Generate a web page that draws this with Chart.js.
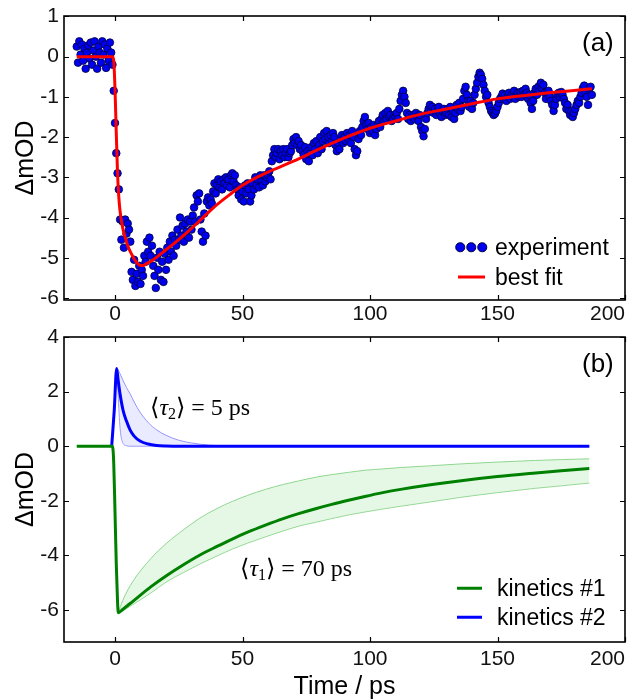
<!DOCTYPE html>
<html>
<head>
<meta charset="utf-8">
<title>Transient absorption kinetics</title>
<script src="https://cdn.jsdelivr.net/npm/chart.js@4.4.1/dist/chart.umd.min.js"></script>
<style>
  html, body { margin: 0; padding: 0; background: #fff; }
  .figure { position: relative; width: 631px; height: 700px; overflow: hidden;
            font-family: 'Liberation Sans', Arial, sans-serif; color: #000; }
  .figure canvas { position: absolute; left: 0; }
  #panelA { top: 0; }
  #panelB { top: 328px; }
  .note { position: absolute; white-space: nowrap; line-height: 1; transform: translateY(-50%); }
  .tag { font-size: 26px; }
  .key { font-size: 23px; }
  .tau { font-family: 'Liberation Serif', 'DejaVu Serif', serif; font-size: 24px; }
  .tau sub { font-size: 16px; vertical-align: -4px; line-height: 0; }
  .dot { position: absolute; width: 7.5px; height: 7.5px; border-radius: 50%;
         background: #0000f0; border: 0.8px solid #00003c; transform: translate(-50%, -50%); }
  .bar { position: absolute; transform: translateY(-50%); }
</style>
</head>
<body>
<div class="figure">
  <canvas id="panelA" width="631" height="328"></canvas>
  <canvas id="panelB" width="631" height="372"></canvas>

  <div class="note tag" style="left:582px; top:42px;">(a)</div>
  <div class="note tag" style="left:582px; top:363px;">(b)</div>

  <span class="dot" style="left:460px; top:247px;"></span>
  <span class="dot" style="left:471px; top:247px;"></span>
  <span class="dot" style="left:482px; top:247px;"></span>
  <div class="note key" style="left:495px; top:247px;">experiment</div>
  <span class="bar" style="left:458px; top:277px; width:27px; height:3px; background:#ff0000;"></span>
  <div class="note key" style="left:495px; top:277px;">best fit</div>

  <span class="bar" style="left:457px; top:588px; width:25px; height:2.5px; background:#008000;"></span>
  <div class="note key" style="left:497px; top:588px;">kinetics #1</div>
  <span class="bar" style="left:457px; top:617px; width:25px; height:2.5px; background:#0000ff;"></span>
  <div class="note key" style="left:497px; top:617px;">kinetics #2</div>

  <div class="note tau" style="left:150px; top:407px;">⟨<i>τ</i><sub>2</sub>⟩ = 5 ps</div>
  <div class="note tau" style="left:240px; top:568px;">⟨<i>τ</i><sub>1</sub>⟩ = 70 ps</div>
</div>

<script>
// Axis ranges and tick positions
const X_MIN = -20, X_MAX = 200;
const xTickValues = [-20, 0, 50, 100, 150, 200];
const xTickMarks = [0, 50, 100, 150, 200];
const topYTicks = [-6, -5, -4, -3, -2, -1, 0, 1];
const bottomYTicks = [-6, -4, -2, 0, 2, 4];

// (a) measured trace, sampled every 0.5 ps from -15 ps
const expStart = -15, expStep = 0.5;
const expDelta = [
  0.25, -0.15, 0.38, 0.05, 0.3, -0.1, 0.2, -0.3, 0.1, 0.28, -0.05, 0.35, -0.2, 0.15, 0.38,
  0.0, -0.3, 0.25, 0.1, -0.15, 0.38, 0.05, 0.3, -0.28, 0.2, -0.1, 0.35, 0.1, -0.2,
  -0.85, -1.65, -2.4, -2.9, -3.3, -4.05, -4.55, -4.1, -4.75,
  -4.05, -4.4, -4.15, -4.3, -4.6, -5.35, -5.55, -5.05, -5.7, -5.4, -5.6, -5.2, -5.65, -5.3,
  -5.45, -4.95, -5.1, -4.6, -4.85, -4.5, -4.95, -4.7, -5.2,
  -5.45, -5.75, -5.0, -5.3, -4.85, -5.55, -5.1, -5.6, -4.9, -5.3, -4.75, -5.05, -4.6, -4.85, -4.45,
  -4.95, -4.55, -4.7, -4.3, -4.55, -4.0, -4.45, -4.2, -4.6, -4.15, -4.35, -4.05, -4.5, -4.1, -4.3,
  -3.95, -3.75, -4.1, -3.45, -3.6, -3.4, -4.05, -4.35, -4.6, -3.9, -4.45, -3.6, -3.5, -3.7, -3.55,
  -3.65, -3.35, -3.15, -3.4, -3.2,
  -3.05, -3.25, -3.1, -3.3, -3.05, -3.15, -3.0, -3.2, -3.05, -3.25, -2.95, -2.9, -3.1, -2.95, -3.2,
  -3.3, -3.45, -3.25, -3.55, -3.35,
  -3.6, -3.2, -3.4, -3.15, -3.3, -3.6, -3.45, -3.15, -3.3, -3.0, -3.2, -3.05, -3.25, -2.95, -3.1,
  -3.2, -2.95, -3.1, -3.0, -2.95,
  -2.85, -3.05, -2.6, -2.45, -2.3, -2.5, -2.4, -2.3, -2.55, -2.35, -2.45, -2.3, -2.5, -2.4, -2.3,
  -2.5, -2.4, -2.35, -2.2, -2.05, -2.15, -2.0, -2.2, -2.1, -2.3, -2.2, -2.35, -2.45, -2.25, -2.55,
  -2.35, -2.6, -2.4, -2.25, -2.45, -2.15, -2.3, -2.1, -2.4, -2.2, -2.0, -2.3, -2.1, -1.9, -2.05,
  -1.85, -2.0, -2.15, -1.95, -2.1, -1.9, -2.0, -2.2, -2.35, -2.15, -2.3, -2.05, -1.95, -2.15, -2.0,
  -2.1, -1.9, -2.05, -1.95, -2.15, -1.85, -2.0, -2.3, -2.45, -2.35, -2.05, -1.85, -1.95, -1.75, -1.6,
  -1.5, -1.7, -1.8, -1.65, -1.9, -1.75, -1.85, -1.7, -1.95, -1.8, -1.7, -1.6, -1.75, -1.55, -1.45,
  -1.6, -1.4, -1.55, -1.35, -1.5, -1.45, -1.6, -1.55, -1.45, -1.5,
  -1.4, -1.55, -1.3, -1.1, -0.95, -0.85, -1.0, -1.15, -1.4, -1.55, -1.45, -1.6, -1.5, -1.45, -1.55,
  -1.4, -1.5, -1.6, -1.45, -1.75, -1.85, -1.98, -1.8, -1.55, -1.4, -1.3, -1.2, -1.35, -1.25, -1.4,
  -1.3, -1.45, -1.35, -1.25, -1.4, -1.5, -1.35, -1.3, -1.45, -1.4,
  -1.3, -1.45, -1.25, -1.5, -1.35, -1.55, -1.4, -1.2, -1.3, -1.15, -1.35, -1.25, -1.05, -0.85, -0.75,
  -0.95, -1.1, -1.25, -1.1, -1.3, -1.15, -0.95, -0.8, -0.65, -0.5, -0.4, -0.45, -0.55, -0.7, -0.85,
  -1.0, -0.95, -1.15, -1.25, -1.35, -1.4, -1.45, -1.42, -1.35, -1.25,
  -1.15, -1.05, -1.0, -0.92, -1.05, -0.95, -1.1, -1.0, -0.9, -1.05, -0.95, -1.0, -0.85, -1.05, -0.95,
  -0.9, -1.0, -0.88, -1.0, -0.85, -0.95, -0.8, -0.9, -1.05, -0.95, -1.15, -1.3, -1.1, -0.9, -0.8,
  -0.95, -0.75, -0.85, -0.65, -0.8, -0.7, -0.9, -1.05, -0.9, -0.85,
  -1.0, -1.1, -1.2, -1.35, -1.2, -1.05, -0.95, -0.9, -1.0, -0.88, -0.95, -1.05, -1.15, -1.3, -1.2,
  -1.35, -1.45, -1.35, -1.5, -1.4, -1.3, -1.2, -1.1, -1.15, -1.0, -0.9, -0.78, -0.72, -0.9, -1.0,
  -1.2, -0.8, -0.75, -0.95
];

// (a) fitted curve
const fitTime = [-15, -1, -0.5, 0, 0.5, 1, 1.5, 2, 3, 4, 5, 6, 7, 8, 9, 10, 11, 12, 15, 20,
  25, 30, 35, 40, 45, 50, 55, 60, 70, 80, 90, 100, 110, 120, 130, 140, 150, 160, 170, 180, 187];
const fitDelta = [0, 0, -0.1, -0.8, -1.9, -2.9, -3.5, -3.85, -4.25, -4.5, -4.7, -4.85, -4.97, -5.08,
  -5.15, -5.19, -5.19, -5.16, -5.05, -4.8, -4.55, -4.27, -3.97, -3.68, -3.43, -3.2, -3.02, -2.87,
  -2.6, -2.3, -2.02, -1.78, -1.6, -1.43, -1.3, -1.17, -1.05, -0.97, -0.9, -0.84, -0.8];

// (b) kinetics #1 (slow component) with its spread
const slowTime = [-15, -1, -0.5, 0, 0.5, 1, 1.3, 3, 7, 14, 20, 27, 33, 40, 46, 52, 59, 66, 72, 79,
  85, 92, 98, 105, 112, 123, 135, 150, 165, 175, 186];
const slowMain = [0, 0, -0.6, -2.4, -4.3, -5.7, -6.1, -5.98, -5.68, -5.15, -4.75, -4.33, -4.0, -3.67,
  -3.4, -3.15, -2.89, -2.65, -2.47, -2.28, -2.13, -1.97, -1.84, -1.7, -1.58, -1.42, -1.27, -1.11,
  -0.98, -0.9, -0.82];
const slowBandTime = [1.3, 3, 7, 14, 20, 27, 33, 40, 46, 52, 59, 66, 72, 79, 85, 92, 98, 105, 112,
  123, 135, 150, 165, 175, 186];
const slowUpper = [-6.1, -5.65, -4.95, -4.12, -3.57, -3.05, -2.65, -2.28, -2.02, -1.8, -1.58, -1.4,
  -1.27, -1.13, -1.04, -0.95, -0.88, -0.83, -0.78, -0.72, -0.65, -0.58, -0.52, -0.49, -0.46];
const slowLower = [-6.1, -6.03, -5.8, -5.38, -4.98, -4.62, -4.33, -4.02, -3.77, -3.55, -3.32, -3.1,
  -2.93, -2.78, -2.65, -2.51, -2.41, -2.3, -2.2, -2.05, -1.88, -1.7, -1.54, -1.45, -1.35];

// (b) kinetics #2 (fast component) with its spread
const fastTime = [-1.3, -0.3, 0.65, 1.2, 2, 3.2, 4.5, 5.9, 7.5, 9.8, 13, 16.3, 20, 25, 30, 37, 45, 186];
const fastMain = [0, 1.3, 2.85, 2.45, 1.9, 1.3, 0.92, 0.6, 0.37, 0.19, 0.08, 0.03, 0.01, 0, 0, 0, 0, 0];
const fastBandTime = [0.65, 1.2, 2, 3.2, 4.5, 5.9, 7.5, 9.8, 13, 16.3, 20, 25, 30, 37, 45, 186];
const fastUpper = [2.85, 2.8, 2.65, 2.4, 2.15, 1.93, 1.62, 1.25, 0.87, 0.6, 0.4, 0.22, 0.12, 0.04, 0.01, 0];
const fastLower = [2.85, 1.9, 0.65, 0.1, 0.02, 0, 0, 0, 0, 0, 0, 0, 0, 0, 0, 0];

const FONT = "'Liberation Sans', Arial, sans-serif";
const TICK_LEN = 5;

const pairs = (xs, ys) => xs.map((x, i) => ({ x, y: ys[i] }));

// box frame plus inward ticks on all four sides
const frameTicks = {
  id: 'frameTicks',
  afterDraw(chart, args, opts) {
    const { ctx, chartArea: a, scales: { x, y } } = chart;
    ctx.save();
    ctx.strokeStyle = '#000';
    ctx.lineWidth = 1.2;
    ctx.beginPath();
    for (const v of opts.xMarks) {
      const px = Math.round(x.getPixelForValue(v)) + 0.5;
      ctx.moveTo(px, a.bottom); ctx.lineTo(px, a.bottom - TICK_LEN);
      ctx.moveTo(px, a.top); ctx.lineTo(px, a.top + TICK_LEN);
    }
    for (const v of opts.yMarks) {
      const py = Math.round(y.getPixelForValue(v)) + 0.5;
      ctx.moveTo(a.left, py); ctx.lineTo(a.left + TICK_LEN, py);
      ctx.moveTo(a.right, py); ctx.lineTo(a.right - TICK_LEN, py);
    }
    ctx.stroke();
    ctx.lineWidth = 1.6;
    ctx.strokeRect(a.left, a.top, a.right - a.left, a.bottom - a.top);
    ctx.restore();
  }
};

function xAxis(height, labelPad, title) {
  return {
    type: 'linear', min: X_MIN, max: X_MAX,
    grid: { display: false, drawTicks: false }, border: { display: false },
    afterBuildTicks: (s) => { s.ticks = xTickValues.map((value) => ({ value })); },
    afterFit: (s) => { s.height = height; s.paddingLeft = 0; s.paddingRight = 0; },
    ticks: {
      align: 'inner', autoSkip: false, maxRotation: 0, padding: labelPad,
      color: '#111', font: { family: FONT, size: 21 },
      callback: (v) => (xTickMarks.includes(v) ? String(v) : ''),
    },
    title: title
      ? { display: true, text: title, color: '#000', padding: 0, font: { family: FONT, size: 25, lineHeight: 1 } }
      : { display: false },
  };
}

function yAxis(min, max, ticks) {
  return {
    type: 'linear', min, max,
    grid: { display: false, drawTicks: false }, border: { display: false },
    afterBuildTicks: (s) => { s.ticks = ticks.map((value) => ({ value })); },
    afterFit: (s) => { s.width = 50; s.paddingTop = 0; s.paddingBottom = 0; },
    ticks: { padding: 5, color: '#111', font: { family: FONT, size: 21 }, callback: (v) => String(v) },
    title: { display: true, text: 'ΔmOD', color: '#000', padding: 0, font: { family: FONT, size: 25, lineHeight: 1 } },
  };
}

function baseOptions(padTop, xScale, yScale, yMarks) {
  return {
    responsive: false,
    animation: false,
    devicePixelRatio: 1,
    events: [],
    layout: { padding: { top: padTop, right: 6, left: 14, bottom: 0 } },
    plugins: {
      legend: { display: false },
      tooltip: { enabled: false },
      frameTicks: { xMarks: xTickMarks, yMarks },
    },
    scales: { x: xScale, y: yScale },
  };
}

const lineStyle = (color, width, order) => ({
  showLine: true, borderColor: color, borderWidth: width, pointRadius: 0,
  cubicInterpolationMode: 'monotone', fill: false, order,
});

new Chart(document.getElementById('panelA'), {
  type: 'scatter',
  data: {
    datasets: [
      { label: 'best fit', data: pairs(fitTime, fitDelta), ...lineStyle('#ff0000', 3, 0) },
      {
        label: 'experiment',
        data: expDelta.map((y, i) => ({ x: expStart + i * expStep, y })),
        showLine: false, pointRadius: 3.8, pointBackgroundColor: '#0000f0',
        pointBorderColor: '#00003c', pointBorderWidth: 0.8, order: 1,
      },
    ],
  },
  options: baseOptions(16, xAxis(28, 2, null), yAxis(-6.05, 1.01, topYTicks), topYTicks),
  plugins: [frameTicks],
});

new Chart(document.getElementById('panelB'), {
  type: 'scatter',
  data: {
    datasets: [
      { label: 'kinetics #1 upper', data: pairs(slowBandTime, slowUpper), ...lineStyle('#96d896', 1, 4) },
      {
        label: 'kinetics #1 lower', data: pairs(slowBandTime, slowLower), ...lineStyle('#96d896', 1, 3),
        fill: '-1', backgroundColor: 'rgba(40, 200, 40, 0.12)',
      },
      { label: 'kinetics #2 upper', data: pairs(fastBandTime, fastUpper), ...lineStyle('#9a9aff', 1, 6) },
      {
        label: 'kinetics #2 lower', data: pairs(fastBandTime, fastLower), ...lineStyle('#9a9aff', 1, 5),
        fill: '-1', backgroundColor: 'rgba(60, 60, 255, 0.1)',
      },
      { label: 'kinetics #2', data: pairs(fastTime, fastMain), ...lineStyle('#0000ff', 3, 1) },
      { label: 'kinetics #1', data: pairs(slowTime, slowMain), ...lineStyle('#008000', 3, 0) },
    ],
  },
  options: baseOptions(9, xAxis(58, 5, 'Time / ps'), yAxis(-7.17, 4, bottomYTicks), bottomYTicks),
  plugins: [frameTicks],
});
</script>
</body>
</html>
